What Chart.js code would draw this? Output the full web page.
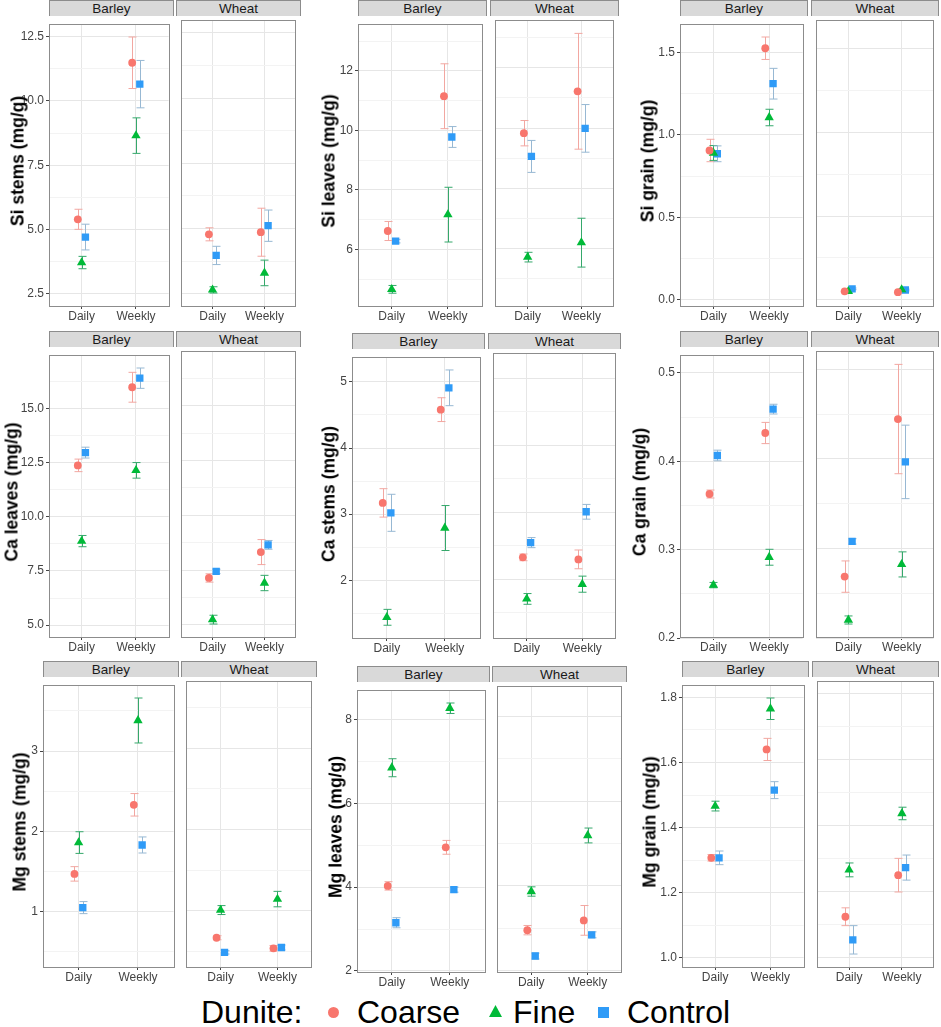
<!DOCTYPE html>
<html>
<head>
<meta charset="utf-8">
<script src="https://cdn.jsdelivr.net/npm/chart.js@4.4.1/dist/chart.umd.min.js"></script>
<style>
  html, body { margin: 0; padding: 0; background: #fff; }
  body { width: 941px; height: 1027px; position: relative; overflow: hidden; font-family: "Liberation Sans", Arial, sans-serif; }
  canvas { position: absolute; }
  .strip { position: absolute; box-sizing: border-box; height: 16px; background: #d9d9d9; border: 1px solid #8c8c8c; border-bottom: none;
           font-size: 13.5px; line-height: 15px; text-align: center; color: #1a1a1a; }
  .ytitle { position: absolute; font-weight: bold; font-size: 17.5px; white-space: nowrap; color: #000;
            transform: translate(-50%, -50%) rotate(-90deg); }
  .legend span { position: absolute; }
  .lg-text { font-size: 32px; line-height: 32px; top: 996px; color: #000; }
  .lg-dot { width: 11px; height: 11px; border-radius: 50%; background: #F8766D; top: 1007px; }
  .lg-tri { width: 13px; height: 12px; background: #00BA38; clip-path: polygon(50% 0, 100% 100%, 0 100%); top: 1005px; }
  .lg-sq { width: 11px; height: 11px; background: #2F9BF7; top: 1007px; }
</style>
</head>
<body>
<div class="legend">
  <span class="lg-text" style="left:201px">Dunite:</span>
  <span class="lg-dot" style="left:328px"></span>
  <span class="lg-text" style="left:357px">Coarse</span>
  <span class="lg-tri" style="left:489px"></span>
  <span class="lg-text" style="left:513px">Fine</span>
  <span class="lg-sq" style="left:598px"></span>
  <span class="lg-text" style="left:627px">Control</span>
</div>
<script>
// facets / x categories / series
const crops = ['Barley', 'Wheat'];
const categories = ['Daily', 'Weekly'];
const treatments = ['Coarse', 'Fine', 'Control'];

// each series: [mean, se] for Barley-Daily, Barley-Weekly, Wheat-Daily, Wheat-Weekly
const siStemsCoarse  = [[5.40, 0.39], [11.48, 1.00], [4.78, 0.25], [4.86, 0.92]];
const siStemsFine    = [[3.72, 0.24], [8.65, 0.69], [2.65, 0.12], [3.30, 0.49]];
const siStemsControl = [[4.71, 0.50], [10.65, 0.92], [3.97, 0.35], [5.11, 0.60]];

const siLeavesCoarse  = [[6.62, 0.32], [11.15, 1.09], [9.83, 0.42], [11.22, 1.92]];
const siLeavesFine    = [[4.66, 0.13], [7.17, 0.92], [5.72, 0.16], [6.20, 0.81]];
const siLeavesControl = [[6.28, 0.06], [9.78, 0.35], [9.06, 0.53], [9.99, 0.79]];

const siGrainCoarse  = [[0.905, 0.068], [1.525, 0.068], [0.050, 0.005], [0.045, 0.005]];
const siGrainFine    = [[0.890, 0.045], [1.105, 0.050], [0.050, 0.005], [0.060, 0.005]];
const siGrainControl = [[0.885, 0.048], [1.310, 0.093], [0.065, 0.005], [0.058, 0.005]];

const caLeavesCoarse  = [[12.38, 0.29], [15.99, 0.69], [7.14, 0.19], [8.32, 0.57]];
const caLeavesFine    = [[8.88, 0.26], [12.15, 0.36], [5.24, 0.20], [6.91, 0.35]];
const caLeavesControl = [[12.97, 0.25], [16.41, 0.47], [7.44, 0.10], [8.65, 0.20]];

const caStemsCoarse  = [[3.17, 0.215], [4.58, 0.18], [2.33, 0.05], [2.30, 0.14]];
const caStemsFine    = [[1.44, 0.12], [2.79, 0.34], [1.71, 0.08], [1.93, 0.12]];
const caStemsControl = [[3.02, 0.28], [4.91, 0.27], [2.55, 0.075], [3.01, 0.11]];

const caGrainCoarse  = [[0.363, 0.0045], [0.432, 0.012], [0.2687, 0.0175], [0.4445, 0.061]];
const caGrainFine    = [[0.260, 0.003], [0.2915, 0.009], [0.2203, 0.0045], [0.2823, 0.014]];
const caGrainControl = [[0.4066, 0.006], [0.459, 0.0055], [0.308, 0.003], [0.3967, 0.041]];

const mgStemsCoarse  = [[1.47, 0.09], [2.33, 0.14], [0.67, 0.025], [0.54, 0.035]];
const mgStemsFine    = [[1.86, 0.135], [3.38, 0.28], [1.01, 0.055], [1.145, 0.095]];
const mgStemsControl = [[1.05, 0.075], [1.83, 0.10], [0.49, 0.02], [0.55, 0.03]];

const mgLeavesCoarse  = [[4.03, 0.10], [4.95, 0.165], [2.96, 0.11], [3.19, 0.35]];
const mgLeavesFine    = [[6.85, 0.215], [8.27, 0.125], [3.87, 0.11], [5.19, 0.175]];
const mgLeavesControl = [[3.15, 0.12], [3.94, 0.06], [2.35, 0.07], [2.85, 0.07]];

const mgGrainCoarse  = [[1.307, 0.010], [1.640, 0.034], [1.124, 0.027], [1.250, 0.051]];
const mgGrainFine    = [[1.466, 0.015], [1.765, 0.033], [1.266, 0.021], [1.437, 0.019]];
const mgGrainControl = [[1.307, 0.021], [1.515, 0.026], [1.054, 0.043], [1.273, 0.038]];

// y tick labels per panel
const siStemsTicks  = ['2.5', '5.0', '7.5', '10.0', '12.5'];
const siLeavesTicks = ['6', '8', '10', '12'];
const siGrainTicks  = ['0.0', '0.5', '1.0', '1.5'];
const caLeavesTicks = ['5.0', '7.5', '10.0', '12.5', '15.0'];
const caStemsTicks  = ['2', '3', '4', '5'];
const caGrainTicks  = ['0.2', '0.3', '0.4', '0.5'];
const mgStemsTicks  = ['1', '2', '3'];
const mgLeavesTicks = ['2', '4', '6', '8'];
const mgGrainTicks  = ['1.0', '1.2', '1.4', '1.6', '1.8'];

const colors = ['#F8766D', '#00BA38', '#2F9BF7'];
const errColors = ['#F2A7A1', '#35A86B', '#97B8D3'];
const shapes = ['circle', 'triangle', 'rect'];
const radii = [3.9, 5.4, 5.2];
const dodge = [-0.07, 0, 0.07];

// panel boxes: T/B plot top/bottom, bL/bR barley facet, wL/wR wheat facet, tx title centre
const panels = [
  { title: 'Si stems (mg/g)',  series: [siStemsCoarse, siStemsFine, siStemsControl],   ticks: siStemsTicks,  T: 16,  B: 306, bL: 49,  bR: 173, wL: 176, wR: 300, tx: 18 },
  { title: 'Si leaves (mg/g)', series: [siLeavesCoarse, siLeavesFine, siLeavesControl], ticks: siLeavesTicks, T: 16,  B: 306, bL: 358, bR: 486, wL: 490, wR: 618, tx: 329 },
  { title: 'Si grain (mg/g)',  series: [siGrainCoarse, siGrainFine, siGrainControl],   ticks: siGrainTicks,  T: 16,  B: 306, bL: 680, bR: 807, wL: 811, wR: 938, tx: 648 },
  { title: 'Ca leaves (mg/g)', series: [caLeavesCoarse, caLeavesFine, caLeavesControl], ticks: caLeavesTicks, T: 347, B: 637, bL: 49,  bR: 173, wL: 176, wR: 300, tx: 12 },
  { title: 'Ca stems (mg/g)',  series: [caStemsCoarse, caStemsFine, caStemsControl],   ticks: caStemsTicks,  T: 349, B: 638, bL: 352, bR: 484, wL: 488, wR: 620, tx: 329 },
  { title: 'Ca grain (mg/g)',  series: [caGrainCoarse, caGrainFine, caGrainControl],   ticks: caGrainTicks,  T: 347, B: 637, bL: 680, bR: 807, wL: 811, wR: 938, tx: 640 },
  { title: 'Mg stems (mg/g)',  series: [mgStemsCoarse, mgStemsFine, mgStemsControl],   ticks: mgStemsTicks,  T: 677, B: 967, bL: 43,  bR: 178, wL: 181, wR: 316, tx: 20 },
  { title: 'Mg leaves (mg/g)', series: [mgLeavesCoarse, mgLeavesFine, mgLeavesControl], ticks: mgLeavesTicks, T: 682, B: 972, bL: 357, bR: 489, wL: 492, wR: 626, tx: 336 },
  { title: 'Mg grain (mg/g)',  series: [mgGrainCoarse, mgGrainFine, mgGrainControl],   ticks: mgGrainTicks,  T: 677, B: 967, bL: 682, bR: 808, wL: 812, wR: 938, tx: 650 }
];

Chart.defaults.font.family = '"Liberation Sans", Arial, sans-serif';

const errorBars = {
  id: 'errorBars',
  beforeDatasetsDraw(chart) {
    const ctx = chart.ctx, ys = chart.scales.y;
    ctx.save();
    ctx.lineWidth = 1;
    chart.data.datasets.forEach((ds, i) => {
      const meta = chart.getDatasetMeta(i);
      ctx.strokeStyle = ds.errColor;
      meta.data.forEach((pt, j) => {
        const d = ds.data[j];
        const x = Math.round(pt.x) + 0.5;
        const yHi = ys.getPixelForValue(d.y + d.se);
        const yLo = ys.getPixelForValue(d.y - d.se);
        ctx.beginPath();
        ctx.moveTo(x, yHi); ctx.lineTo(x, yLo);
        ctx.moveTo(x - 4, yHi); ctx.lineTo(x + 4, yHi);
        ctx.moveTo(x - 4, yLo); ctx.lineTo(x + 4, yLo);
        ctx.stroke();
      });
    });
    ctx.restore();
  }
};

const panelBorder = {
  id: 'panelBorder',
  afterDraw(chart) {
    const a = chart.chartArea, ctx = chart.ctx;
    ctx.save();
    ctx.strokeStyle = '#8c8c8c';
    ctx.lineWidth = 1;
    ctx.strokeRect(Math.round(a.left) + 0.5, Math.round(a.top) + 0.5, Math.round(a.right - a.left), Math.round(a.bottom - a.top));
    ctx.restore();
  }
};

function yRange(series) {
  let lo = Infinity, hi = -Infinity;
  series.forEach(s => s.forEach(([m, se]) => { lo = Math.min(lo, m - se); hi = Math.max(hi, m + se); }));
  const pad = (hi - lo) * 0.05;
  return [lo - pad, hi + pad];
}

function makeFacet(p, f, yMin, yMax, major, minor) {
  const isBarley = f === 0;
  const L = isBarley ? p.bL : p.wL;
  const R = isBarley ? p.bR : p.wR;
  const AW = isBarley ? 40 : 0, XH = 22, PT = 1, PR = 1;
  const w = AW + (R - L) + PR, h = PT + (p.B - p.T) + XH;

  const strip = document.createElement('div');
  strip.className = 'strip';
  strip.textContent = crops[f];
  strip.style.left = L + 'px';
  strip.style.top = (p.T - 16) + 'px';
  strip.style.width = (R - L + 1) + 'px';
  document.body.appendChild(strip);

  const canvas = document.createElement('canvas');
  canvas.width = w; canvas.height = h;
  canvas.style.width = w + 'px'; canvas.style.height = h + 'px';
  canvas.style.left = (L - AW) + 'px';
  canvas.style.top = (p.T - PT) + 'px';
  document.body.appendChild(canvas);

  const rows = isBarley ? [0, 1] : [2, 3];
  const datasets = treatments.map((t, k) => ({
    label: t,
    data: rows.map((r, c) => ({ x: c + 1 + dodge[k], y: p.series[k][r][0], se: p.series[k][r][1] })),
    pointStyle: shapes[k],
    pointRadius: radii[k],
    pointHoverRadius: radii[k],
    backgroundColor: colors[k],
    borderWidth: 0,
    errColor: errColors[k]
  }));

  const isMajor = v => major.some(m => Math.abs(m - v) < 1e-9);
  const allTicks = major.concat(minor).sort((a, b) => a - b);

  new Chart(canvas, {
    type: 'scatter',
    data: { datasets },
    options: {
      responsive: false,
      animation: false,
      events: [],
      layout: { padding: { top: PT, right: PR, left: 0, bottom: 0 } },
      plugins: { legend: { display: false }, tooltip: { enabled: false } },
      scales: {
        x: {
          type: 'linear', min: 0.4, max: 2.6,
          afterBuildTicks: s => { s.ticks = [{ value: 1 }, { value: 2 }]; },
          afterFit: s => { s.height = XH; },
          ticks: { callback: v => categories[Math.round(v) - 1], font: { size: 12 }, color: '#444', padding: 0, maxRotation: 0, autoSkip: false },
          grid: { color: '#e6e6e6', lineWidth: 1, tickLength: 3, tickColor: '#444' },
          border: { display: false }
        },
        y: {
          type: 'linear', min: yMin, max: yMax,
          afterBuildTicks: s => { s.ticks = allTicks.map(v => ({ value: v })); },
          afterFit: s => { s.width = AW; },
          ticks: {
            display: isBarley,
            autoSkip: false,
            font: { size: 12 }, color: '#444', padding: 2,
            callback: v => { const i = major.findIndex(m => Math.abs(m - v) < 1e-9); return i >= 0 ? p.ticks[i] : ''; }
          },
          grid: {
            color: c => (c.tick && isMajor(c.tick.value)) ? '#e6e6e6' : '#f3f3f3',
            lineWidth: 1,
            drawTicks: isBarley,
            tickLength: 3,
            tickColor: c => (c.tick && isMajor(c.tick.value)) ? '#444' : 'rgba(0,0,0,0)'
          },
          border: { display: false }
        }
      }
    },
    plugins: [errorBars, panelBorder]
  });
}

panels.forEach(p => {
  const [yMin, yMax] = yRange(p.series);
  const major = p.ticks.map(Number);
  const step = major[1] - major[0];
  const minor = [];
  major.forEach(m => minor.push(m - step / 2));
  minor.push(major[major.length - 1] + step / 2);
  const minorIn = minor.filter(v => v > yMin && v < yMax);

  crops.forEach((c, f) => makeFacet(p, f, yMin, yMax, major, minorIn));

  const t = document.createElement('div');
  t.className = 'ytitle';
  t.textContent = p.title;
  t.style.left = p.tx + 'px';
  t.style.top = ((p.T + p.B) / 2) + 'px';
  document.body.appendChild(t);
});
</script>
</body>
</html>
